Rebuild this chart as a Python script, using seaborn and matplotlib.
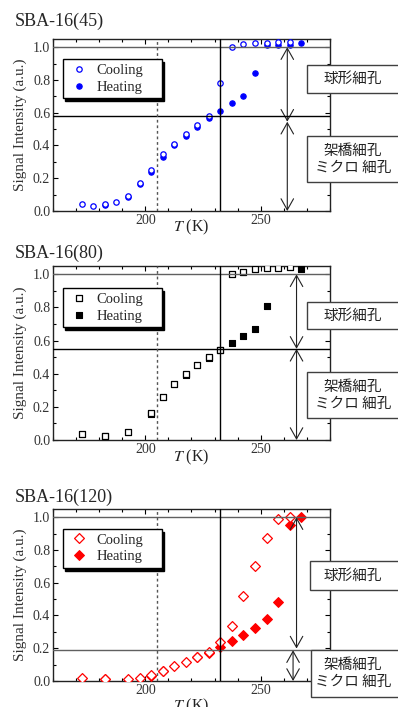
import matplotlib
matplotlib.use("Agg")
import matplotlib.pyplot as plt
import seaborn as sns
from matplotlib.patches import Rectangle
from matplotlib.ticker import MultipleLocator

# --- data ---
T1_cool = [172.5, 177.5, 182.5, 187.5, 192.5, 197.5, 202.5, 207.5, 212.5, 217.5,
           222.5, 227.5, 232.5, 237.5, 242.5, 247.5, 252.5, 257.5, 262.5]
I1_cool = [0.041, 0.032, 0.040, 0.057, 0.093, 0.170, 0.252, 0.345, 0.410, 0.470,
           0.525, 0.578, 0.781, 1.000, 1.018, 1.024, 1.024, 1.030, 1.030]
T1_heat = [182.5, 192.5, 197.5, 202.5, 207.5, 212.5, 217.5, 222.5, 227.5, 232.5,
           237.5, 242.5, 247.5, 252.5, 257.5, 262.5, 267.5]
I1_heat = [0.036, 0.088, 0.162, 0.240, 0.332, 0.400, 0.460, 0.515, 0.566, 0.613,
           0.657, 0.700, 0.844, 1.012, 1.012, 1.012, 1.024]

T2_cool = [172.5, 182.5, 192.5, 202.5, 207.5, 212.5, 217.5, 222.5, 227.5, 232.5,
           237.5, 242.5, 247.5, 252.5, 257.5, 262.5]
I2_cool = [0.034, 0.026, 0.048, 0.163, 0.258, 0.340, 0.398, 0.453, 0.503, 0.545,
           1.000, 1.016, 1.030, 1.040, 1.040, 1.045]
T2_heat = [182.5, 202.5, 217.5, 227.5, 232.5, 237.5, 242.5, 247.5, 252.5, 267.5]
I2_heat = [0.022, 0.159, 0.394, 0.497, 0.545, 0.583, 0.626, 0.670, 0.810, 1.030]

T3_cool = [172.5, 182.5, 192.5, 197.5, 202.5, 207.5, 212.5, 217.5, 222.5, 227.5,
           232.5, 237.5, 242.5, 247.5, 252.5, 257.5, 262.5]
I3_cool = [0.016, 0.012, 0.012, 0.020, 0.036, 0.063, 0.093, 0.119, 0.149, 0.176,
           0.238, 0.333, 0.521, 0.700, 0.873, 0.986, 1.000]
T3_heat = [182.5, 202.5, 207.5, 222.5, 227.5, 232.5, 237.5, 242.5, 247.5, 252.5,
           257.5, 262.5, 267.5]
I3_heat = [0.010, 0.032, 0.058, 0.146, 0.173, 0.208, 0.244, 0.279, 0.323, 0.380,
           0.485, 0.955, 1.000]

titles = ["SBA-16(45)", "SBA-16(80)", "SBA-16(120)"]
split_levels = [0.58, 0.55, 0.19]      # horizontal boundary line
arrow_split = [0.545, 0.55, 0.193]    # where the two arrows meet
arrow_T = [261.5, 265.5, 265.0]
T_dotted = 205
T_solid = 232.5
box_top_label = "球形細孔"
box_bottom_label = "架橋細孔\nミクロ 細孔"

# --- style ---
sns.set_style("ticks")
plt.rcParams["font.family"] = ["Liberation Serif", "Noto Sans CJK JP", "DejaVu Sans"]
plt.rcParams["mathtext.fontset"] = "stix"

W, H = 398, 707
fig = plt.figure(figsize=(W / 100, H / 100), dpi=100)


def fx(x):
    return x / W


def fy(y):
    return 1 - y / H


# axes frames in pixels: (top, bottom)
frames = [(39, 211), (266, 440), (509, 681)]
L, R = 53, 330
# side boxes in pixels: (x0, top, bottom)
boxes_a = [(307, 65, 93), (307, 302, 329), (310, 561, 590)]
boxes_b = [(307, 136, 182), (307, 372, 418), (311, 650, 697)]
title_y = [21, 253, 497]
xlabel_y = [-0.041, -0.046, -0.093]
legend_top = [0.882, 0.872, 0.884]

series = [
    (T1_cool, I1_cool, T1_heat, I1_heat, "o", "#0000ff", 15),
    (T2_cool, I2_cool, T2_heat, I2_heat, "s", "black", 19),
    (T3_cool, I3_cool, T3_heat, I3_heat, "D", "#ff0000", 25),
]

for i, (tc, ic, th, ih, mk, col, size) in enumerate(series):
    top, bot = frames[i]
    ax = fig.add_axes([fx(L), fy(bot), (R - L) / W, (bot - top) / H])

    ax.axhline(1.0, color="#606060", lw=1.0, zorder=5)
    ax.axhline(split_levels[i], color="black" if i < 2 else "#606060", lw=1.0, zorder=5)
    ax.axvline(T_dotted, color="#555555", lw=1.0, ls=(0, (2, 2)), zorder=5)
    ax.axvline(T_solid, color="black", lw=1.0, zorder=5)

    sns.scatterplot(x=th, y=ih, marker=mk, color=col, edgecolor=col, s=size,
                    linewidth=0.8, ax=ax, label="Heating", zorder=3)
    sns.scatterplot(x=tc, y=ic, marker=mk, facecolor="white", edgecolor=col, s=size,
                    linewidth=0.9, ax=ax, label="Cooling", zorder=4)

    arrow = dict(arrowstyle="<->,head_length=0.8,head_width=0.45", lw=0.8,
                 color="#222222", shrinkA=0, shrinkB=0, mutation_scale=10)
    if i < 2:
        ax.annotate("", xy=(arrow_T[i], 1.0), xytext=(arrow_T[i], arrow_split[i]),
                    arrowprops=arrow)
        ax.annotate("", xy=(arrow_T[i], arrow_split[i]), xytext=(arrow_T[i], 0.0),
                    arrowprops=arrow)
    else:
        ax.annotate("", xy=(265.5, 1.0), xytext=(265.5, 0.198), arrowprops=arrow)
        ax.annotate("", xy=(264.0, 0.188), xytext=(264.0, 0.0), arrowprops=arrow)

    ax.set_xlim(160, 280)
    ax.set_ylim(0, 1.05)
    ax.xaxis.set_major_locator(MultipleLocator(50))
    ax.xaxis.set_minor_locator(MultipleLocator(10))
    ax.yaxis.set_major_locator(MultipleLocator(0.2))
    ax.yaxis.set_minor_locator(MultipleLocator(0.1))
    ax.yaxis.set_major_formatter(lambda v, p: f"{v:.1f}")
    ax.tick_params(which="both", direction="in", top=True, right=True,
                   color="black", width=0.8, labelsize=10, labelcolor="#333333", pad=2)
    ax.tick_params(which="major", length=3.5)
    ax.tick_params(which="minor", length=2)
    for sp in ax.spines.values():
        sp.set_color("#222222")
        sp.set_linewidth(1.0)

    ax.set_xlabel(r"$T$ (K)", fontsize=11.5, color="#222222")
    ax.xaxis.set_label_coords(0.5, xlabel_y[i])
    ax.set_ylabel("Signal Intensity (a.u.)", fontsize=11, color="#333333")
    ax.yaxis.set_label_coords(-0.094, 0.5)

    handles, labels = ax.get_legend_handles_labels()
    order = [labels.index("Cooling"), labels.index("Heating")]
    ax.legend([handles[k] for k in order], ["Cooling", "Heating"],
              loc="upper left", bbox_to_anchor=(0.035, 0, 0.357, legend_top[i]),
              mode="expand", borderaxespad=0, fontsize=10.5, frameon=True,
              fancybox=False, edgecolor="black", framealpha=1,
              shadow={"facecolor": "black", "edgecolor": "black", "alpha": 1},
              borderpad=0.3, labelspacing=0.25, handlelength=1.6,
              handletextpad=0.4, scatteryoffsets=[0.5])
    ax.get_legend().get_frame().set_linewidth(1.0)
    ax.get_legend().set_zorder(6)

    fig.text(fx(15), fy(title_y[i]), titles[i], fontsize=13, ha="left", va="center")

    for (x0, t, b), txt in ((boxes_a[i], box_top_label), (boxes_b[i], box_bottom_label)):
        fig.add_artist(Rectangle((fx(x0), fy(b)), fx(120), (b - t) / H,
                                 transform=fig.transFigure, facecolor="white",
                                 edgecolor="#404040", lw=1.0, clip_on=False))
        fig.text(fx(353), fy((t + b) / 2), txt, fontsize=10.5, ha="center",
                 va="center", multialignment="center", linespacing=1.25,
                 family=["Noto Sans CJK JP", "DejaVu Sans"], color="#222222")

fig.savefig("out.png", dpi=100)
